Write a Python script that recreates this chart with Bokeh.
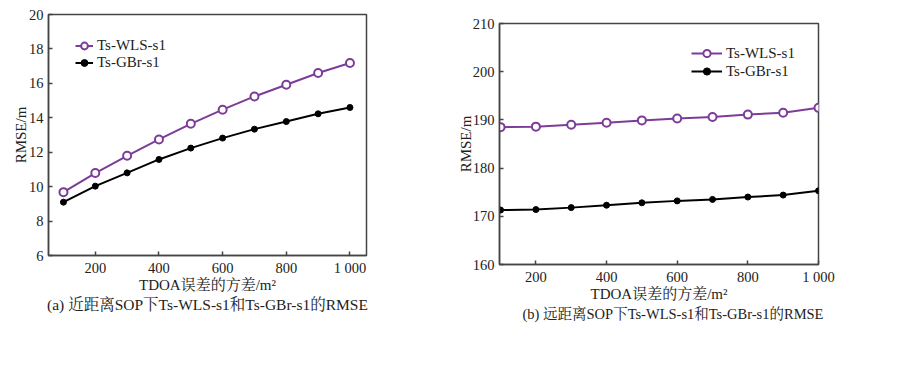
from bokeh.plotting import figure
from bokeh.layouts import row, column
from bokeh.models import FixedTicker, Range1d, Legend, LegendItem, Title, Spacer
from bokeh.embed import file_html
from bokeh.resources import INLINE

# ---- data ----
x_vals = [100, 200, 300, 400, 500, 600, 700, 800, 900, 1000]
near_wls = [9.68, 10.79, 11.79, 12.74, 13.65, 14.47, 15.24, 15.92, 16.60, 17.18]
near_gbr = [9.10, 10.03, 10.80, 11.58, 12.24, 12.82, 13.34, 13.78, 14.23, 14.60]
far_wls = [188.5, 188.6, 189.0, 189.4, 189.9, 190.3, 190.6, 191.1, 191.5, 192.5]
far_gbr = [171.3, 171.4, 171.8, 172.3, 172.8, 173.2, 173.5, 174.0, 174.4, 175.3]
x_ticks = [200, 400, 600, 800, 1000]
x_tick_overrides = {1000: "1 000"}
near_y_ticks = [6, 8, 10, 12, 14, 16, 18, 20]
far_y_ticks = [160, 170, 180, 190, 200, 210]
series_names = ["Ts-WLS-s1", "Ts-GBr-s1"]
x_label = "TDOA误差的方差/m²"
y_label = "RMSE/m"
captions = ["(a) 近距离SOP下Ts-WLS-s1和Ts-GBr-s1的RMSE",
            "(b) 远距离SOP下Ts-WLS-s1和Ts-GBr-s1的RMSE"]

FONT = "Liberation Serif, 'Noto Serif CJK SC', 'Noto Sans CJK SC', serif"
PURPLE = "#7d3c98"
AXIS = "#444444"


def make_panel(wls, gbr, xr, yr, yticks, caption, fw, fh, borders,
               legend_xy, glyph_w, row_h, ylab_standoff,
               cap_align, cap_offset, cap_size, cap_standoff):
    bl, br, bt, bb = borders
    p = figure(frame_width=fw, frame_height=fh, output_backend="svg",
               toolbar_location=None, x_range=Range1d(*xr), y_range=Range1d(*yr),
               min_border_left=bl, min_border_right=br,
               min_border_top=bt, min_border_bottom=bb)
    p.background_fill_color = "white"
    p.border_fill_color = "white"
    p.grid.visible = False
    p.outline_line_color = AXIS
    p.outline_line_width = 1.5
    for ax in (p.xaxis, p.yaxis):
        ax.axis_line_color = AXIS
        ax.axis_line_width = 1.5
        ax.major_tick_line_color = AXIS
        ax.major_tick_line_width = 1.5
        ax.major_tick_in = 4
        ax.major_tick_out = 0
        ax.minor_tick_line_color = None
        ax.major_label_text_font = FONT
        ax.major_label_text_font_size = "14.5px"
        ax.major_label_text_color = "#222222"
        ax.axis_label_text_font = FONT
        ax.axis_label_text_font_size = "15px"
        ax.axis_label_text_font_style = "normal"
        ax.axis_label_text_color = "#222222"
    p.xaxis.ticker = FixedTicker(ticks=x_ticks)
    p.xaxis.major_label_overrides = x_tick_overrides
    p.yaxis.ticker = FixedTicker(ticks=yticks)
    p.xaxis.axis_label = x_label
    p.yaxis.axis_label = y_label
    p.xaxis.axis_label_standoff = -2
    p.yaxis.axis_label_standoff = ylab_standoff
    p.xaxis.major_label_standoff = 4

    l1 = p.line(x_vals, wls, line_color=PURPLE, line_width=2)
    s1 = p.scatter(x_vals, wls, marker="circle", size=8, line_color=PURPLE,
                   line_width=2, fill_color="white")
    l2 = p.line(x_vals, gbr, line_color="black", line_width=2)
    s2 = p.scatter(x_vals, gbr, marker="circle", size=6, line_color="black",
                   fill_color="black")

    legend = Legend(items=[LegendItem(label=series_names[0], renderers=[l1, s1]),
                           LegendItem(label=series_names[1], renderers=[l2, s2])],
                    location=legend_xy, padding=0, margin=0, spacing=0,
                    glyph_width=glyph_w, glyph_height=row_h, label_height=row_h,
                    label_standoff=4, border_line_color=None,
                    background_fill_alpha=0,
                    label_text_font=FONT, label_text_font_size="15px",
                    label_text_color="#222222")
    p.add_layout(legend, "center")

    t = Title(text=caption, align=cap_align, text_font=FONT,
              text_font_size=cap_size, text_font_style="normal",
              text_color="#222222", standoff=cap_standoff, offset=cap_offset)
    p.add_layout(t, "below")
    return p


p1 = make_panel(near_wls, near_gbr, (53, 1052), (6, 20), near_y_ticks, captions[0],
                318, 241, (48, 74, 14, 70), (27, 184), 18, 17, -3,
                "center", 0, "15.5px", -4)
p2 = make_panel(far_wls, far_gbr, (97, 1000), (160, 210), far_y_ticks, captions[1],
                319, 241, (59, 60, 14, 60), (192, 184), 31, 18, -4,
                "left", 23, "14.5px", -2)

layout = row(p1, column(Spacer(width=10, height=9), p2))
open("out.html", "w").write(file_html(layout, INLINE))
